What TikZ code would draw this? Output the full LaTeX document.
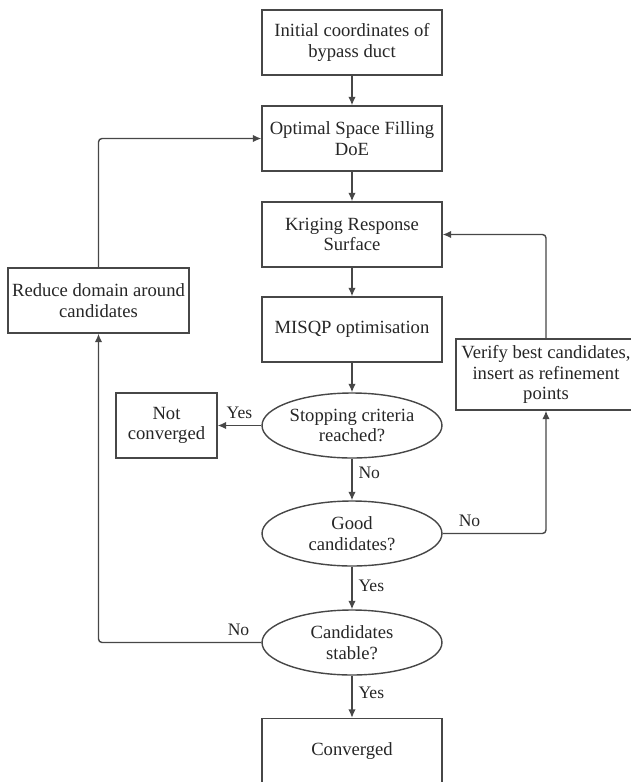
\documentclass[tikz,border=0pt]{standalone}
\usepackage{fontspec}
\setmainfont{Liberation Serif}
\usetikzlibrary{calc,arrows.meta,shapes.geometric}
\usepackage{xcolor}

\begin{document}
\begin{tikzpicture}[x=0.02cm, y=-0.02cm, line width=0.8pt, draw=black!72, text=black!85,
		font=\fontsize{10.6pt}{11.6pt}\selectfont,
		box/.style={draw, rectangle, align=center, inner sep=1pt, minimum width=3.6cm, minimum height=1.3cm},
		dec/.style={draw, ellipse, align=center, inner sep=0pt, minimum width=3.6cm, minimum height=1.3cm},
		lbl/.style={font=\fontsize{10pt}{11pt}\selectfont},
		arr/.style={-{Latex[length=1.7mm,width=1.5mm]}}]
		\clip (0,0) rectangle (631,782);
		\node[box] (I) at (352,42.5) {Initial coordinates of\\bypass duct};
		\node[box] (D) at (352,138.5) {Optimal Space Filling\\DoE};
		\node[box] (K) at (352,234.5) {Kriging Response\\Surface};
		\node[box] (M) at (352,329.5) {MISQP optimisation};
		\node[dec] (S) at (352,425.5) {Stopping criteria\\reached?};
		\node[dec] (G) at (352,533.5) {Good\\candidates?};
		\node[dec] (C) at (352,642.5) {Candidates\\stable?};
		\node[box] (F) at (352,751) {Converged};
		\node[box, minimum width=2.02cm] (N) at (166.5,425.5) {Not\\converged};
		\node[box, minimum width=3.62cm] (R) at (98.5,300.5) {Reduce domain around\\candidates};
		\node[box, minimum height=1.42cm] (V) at (546,374.5) {Verify best candidates,\\insert as refinement\\points};
		\draw[arr] (I) -- (D);
		\draw[arr] (D) -- (K);
		\draw[arr] (K) -- (M);
		\draw[arr] (M) -- (S);
		\draw[arr] (S) -- node[lbl, above] {Yes} (N);
		\draw[arr] (S) -- node[lbl, right, pos=0.35] {No} (G);
		\draw[arr, rounded corners=2pt] (G) -| node[lbl, above, pos=0.13] {No} (V);
		\draw[arr, rounded corners=2pt] (V) |- (K);
		\draw[arr] (G) -- node[lbl, right, pos=0.45] {Yes} (C);
		\draw[arr] (C) -- node[lbl, right, pos=0.4] {Yes} (F);
		\draw[arr, rounded corners=2pt] (C) -| node[lbl, above, pos=0.07] {No} (R);
		\draw[arr, rounded corners=2pt] (R) |- (D);
		\end{tikzpicture}
\end{document}
